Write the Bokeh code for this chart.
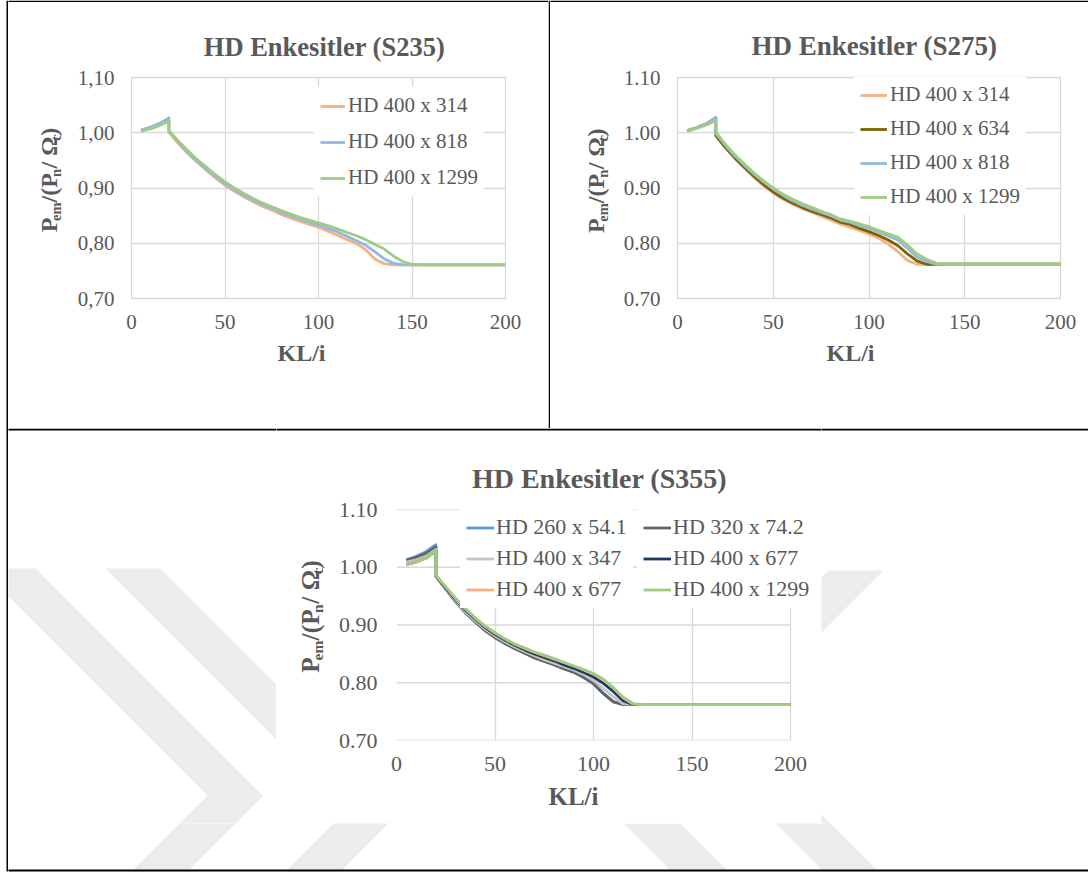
import math

from bokeh.core.properties import value
from bokeh.embed import file_html
from bokeh.layouts import column, row
from bokeh.models import (CustomJSTickFormatter, FixedTicker, Legend, LegendItem,
                          Range1d)
from bokeh.plotting import figure
from bokeh.resources import INLINE

# ---------------------------------------------------------------- data
X_TICKS = [0, 50, 100, 150, 200]
Y_TICKS = [0.70, 0.80, 0.90, 1.00, 1.10]
Y_LABELS_COMMA = ["0,70", "0,80", "0,90", "1,00", "1,10"]
Y_LABELS_DOT = ["0.70", "0.80", "0.90", "1.00", "1.10"]

# slenderness KL/i (20 appears twice: the ratio jumps down there)
KL_S235 = [5, 10, 15, 20, 20, 25, 30, 35, 40, 45, 50, 55, 60, 65, 70, 75, 80, 85, 90,
           95, 100, 105, 110, 115, 120, 125, 130, 135, 140, 145, 150, 155, 200]
S235_HD400x314 = [1.005, 1.010, 1.016, 1.026, 1.001, 0.981, 0.963, 0.947, 0.932, 0.918,
                  0.905, 0.894, 0.884, 0.875, 0.867, 0.860, 0.852, 0.846, 0.840, 0.834,
                  0.829, 0.822, 0.815, 0.807, 0.800, 0.789, 0.772, 0.763, 0.761, 0.761,
                  0.761, 0.761, 0.761]
S235_HD400x818 = [1.005, 1.010, 1.017, 1.027, 1.002, 0.983, 0.965, 0.949, 0.934, 0.921,
                  0.908, 0.897, 0.887, 0.878, 0.870, 0.863, 0.856, 0.850, 0.844, 0.838,
                  0.833, 0.827, 0.821, 0.813, 0.805, 0.797, 0.785, 0.772, 0.764, 0.761,
                  0.761, 0.761, 0.761]
S235_HD400x1299 = [1.003, 1.007, 1.013, 1.021, 1.004, 0.985, 0.968, 0.952, 0.938, 0.924,
                   0.911, 0.900, 0.890, 0.881, 0.873, 0.866, 0.859, 0.853, 0.847, 0.842,
                   0.837, 0.832, 0.826, 0.820, 0.814, 0.807, 0.798, 0.790, 0.777, 0.767,
                   0.762, 0.761, 0.761]

KL_S275 = [5, 10, 15, 20, 20, 25, 30, 35, 40, 45, 50, 55, 60, 65, 70, 75, 80, 85, 90,
           95, 100, 105, 110, 115, 120, 125, 130, 135, 140, 145, 150, 155, 200]
S275_HD400x314 = [1.004, 1.009, 1.016, 1.027, 0.997, 0.974, 0.954, 0.936, 0.919, 0.904,
                  0.891, 0.880, 0.871, 0.863, 0.856, 0.849, 0.842, 0.835, 0.829, 0.823,
                  0.817, 0.809, 0.799, 0.785, 0.769, 0.762, 0.762, 0.762, 0.762, 0.762,
                  0.762, 0.762, 0.762]
S275_HD400x634 = [1.004, 1.009, 1.016, 1.027, 0.995, 0.973, 0.954, 0.937, 0.921, 0.906,
                  0.893, 0.882, 0.873, 0.865, 0.858, 0.852, 0.846, 0.838, 0.834, 0.827,
                  0.821, 0.814, 0.806, 0.796, 0.781, 0.768, 0.762, 0.762, 0.762, 0.762,
                  0.762, 0.762, 0.762]
S275_HD400x818 = [1.004, 1.009, 1.016, 1.028, 0.999, 0.977, 0.958, 0.941, 0.925, 0.911,
                  0.898, 0.887, 0.877, 0.869, 0.862, 0.856, 0.850, 0.842, 0.838, 0.832,
                  0.827, 0.820, 0.813, 0.806, 0.791, 0.775, 0.767, 0.762, 0.762, 0.762,
                  0.762, 0.762, 0.762]
S275_HD400x1299 = [1.003, 1.008, 1.014, 1.022, 1.001, 0.979, 0.960, 0.943, 0.927, 0.913,
                   0.900, 0.889, 0.880, 0.872, 0.865, 0.858, 0.852, 0.844, 0.840, 0.835,
                   0.830, 0.823, 0.817, 0.811, 0.797, 0.781, 0.771, 0.764, 0.762, 0.762,
                   0.762, 0.762, 0.762]

KL_S355 = [5, 10, 15, 20, 20, 25, 30, 35, 40, 45, 50, 55, 60, 65, 70, 75, 80, 85, 90,
           95, 100, 105, 110, 115, 120, 125, 200]
S355_HD260x54_1 = [1.013, 1.019, 1.027, 1.039, 0.985, 0.963, 0.941, 0.922, 0.906, 0.891,
                   0.879, 0.869, 0.860, 0.852, 0.844, 0.838, 0.832, 0.825, 0.819, 0.810,
                   0.799, 0.782, 0.768, 0.762, 0.762, 0.762, 0.762]
S355_HD320x74_2 = [1.012, 1.017, 1.024, 1.035, 0.984, 0.962, 0.940, 0.921, 0.905, 0.890,
                   0.878, 0.868, 0.859, 0.851, 0.843, 0.837, 0.831, 0.824, 0.818, 0.809,
                   0.798, 0.781, 0.767, 0.762, 0.762, 0.762, 0.762]
S355_HD400x347 = [1.009, 1.013, 1.019, 1.031, 0.985, 0.963, 0.942, 0.923, 0.907, 0.893,
                  0.881, 0.871, 0.862, 0.854, 0.847, 0.840, 0.834, 0.828, 0.822, 0.814,
                  0.804, 0.790, 0.776, 0.764, 0.762, 0.762, 0.762]
S355_HD400x677_A = [1.005, 1.009, 1.016, 1.028, 0.985, 0.964, 0.944, 0.926, 0.910, 0.896,
                    0.884, 0.874, 0.865, 0.857, 0.850, 0.844, 0.838, 0.831, 0.825, 0.818,
                    0.810, 0.799, 0.785, 0.769, 0.762, 0.762, 0.762]
S355_HD400x677_B = [1.005, 1.009, 1.016, 1.028, 0.986, 0.966, 0.946, 0.928, 0.912, 0.898,
                    0.886, 0.876, 0.867, 0.860, 0.853, 0.847, 0.841, 0.835, 0.829, 0.822,
                    0.815, 0.805, 0.791, 0.774, 0.763, 0.762, 0.762]
S355_HD400x1299 = [1.005, 1.009, 1.016, 1.028, 0.986, 0.966, 0.946, 0.928, 0.912, 0.898,
                   0.887, 0.876, 0.867, 0.860, 0.853, 0.848, 0.842, 0.835, 0.829, 0.823,
                   0.816, 0.806, 0.792, 0.775, 0.764, 0.762, 0.762]

# ---------------------------------------------------------------- style
FONT = "Liberation Serif"
TEXT = "#595959"
GRID = "#d9d9d9"
ORANGE = "#F4B183"
LIGHT_BLUE = "#8FBBE3"
GREEN = "#9FCC82"
BROWN = "#7F6000"
BLUE = "#5B9BD5"
DARK_GRAY = "#636363"
LIGHT_GRAY = "#C5C5C5"
NAVY = "#203864"
WATERMARK = "#ececec"
LW = 2.8

# advance widths (em) of the bold serif face, used to chain the pieces of the
# rotated y title with its subscripts
ADV = {"P": .611, "e": .444, "m": .833, " ": .25, "/": .278, "(": .333,
       ")": .333, "n": .556, "c": .444, "Ω": .768}
# distance (em) from the baseline to the middle of the ascent/descent box
MID = 0.3375


def adv(text, size):
    return sum(ADV[ch] for ch in text) * size


# ---------------------------------------------------------------- helpers
def decor(x0, y0, x1, y1):
    """Axis-less tile of the page; its data space is page pixels (y negated)."""
    return figure(width=x1 - x0, height=y1 - y0, title=None, toolbar_location=None,
                  output_backend="svg", x_range=Range1d(x0, x1),
                  y_range=Range1d(-y1, -y0), min_border=0, x_axis_type=None,
                  y_axis_type=None, outline_line_color=None,
                  background_fill_color="white", border_fill_color="white")


def rule(p, x0, y0, x1, y1):
    p.quad(left=x0, right=x1, top=-y0, bottom=-y1, fill_color="black", line_color=None)


def ctext(p, xc, yc, text, size, angle=0.0):
    """Bold text centred on (xc, yc) in page pixels."""
    p.text(x=[xc], y=[-yc], text=[text], text_font=value(FONT),
           text_font_size=value(f"{size}px"), text_font_style=value("bold"),
           text_color=value(TEXT), text_align=value("center"),
           text_baseline=value("middle"), angle=angle)


def btext(p, x, baseline, text, size):
    ctext(p, x, baseline - MID * size, text, size)


def dpatch(p, pts, color):
    p.patch(x=[q[0] for q in pts], y=[-q[1] for q in pts], fill_color=color,
            line_color=None)


def y_title(p, xb, yc, s, ss, shift):
    """Rotated 'Pem /(Pn / Ωc)' built from pieces, subscripts set lower."""
    parts = [("P", False, ""), ("em", True, ""), ("/(P", False, " "), ("n", True, ""),
             ("/ Ω", False, " "), ("c", True, ""), (")", False, "")]
    total = sum(adv(lead + t, ss if sub else s) for t, sub, lead in parts)
    y = yc + total / 2
    for t, sub, lead in parts:
        size = ss if sub else s
        y -= adv(lead, size)
        w = adv(t, size)
        ctext(p, xb + (shift if sub else 0) - MID * size, y - w / 2, t, size,
              angle=math.pi / 2)
        y -= w


def make_chart(box, frame, tick_px, labels, frame_right_px=None):
    fx0, fy0, fx1, fy1 = box
    left, right, top, bottom = frame
    fr = right if frame_right_px is None else frame_right_px
    x_end = X_TICKS[-1] * (fr - left) / (right - left)
    p = figure(width=fx1 - fx0, height=fy1 - fy0, title=None, toolbar_location=None,
               output_backend="svg", x_range=Range1d(X_TICKS[0], x_end),
               y_range=Range1d(Y_TICKS[0], Y_TICKS[-1]),
               min_border_left=left - fx0, min_border_right=fx1 - fr,
               min_border_top=top - fy0, min_border_bottom=fy1 - bottom,
               background_fill_color="white", border_fill_color="white")
    for ax in (p.xaxis[0], p.yaxis[0]):
        ax.axis_line_color = None
        ax.major_tick_in = 0
        ax.major_tick_out = 0
        ax.minor_tick_line_color = None
        ax.major_label_text_font = FONT
        ax.major_label_text_font_size = f"{tick_px}px"
        ax.major_label_text_color = TEXT
    p.xaxis.ticker = FixedTicker(ticks=X_TICKS)
    p.yaxis.ticker = FixedTicker(ticks=Y_TICKS)
    p.yaxis.formatter = CustomJSTickFormatter(
        args=dict(vals=Y_TICKS, labs=labels),
        code="const i = vals.findIndex(t => Math.abs(t - tick) < 1e-9);"
             "return i >= 0 ? labs[i] : '';")
    p.xaxis.major_label_standoff = 16
    p.yaxis.major_label_standoff = 17 if tick_px < 22 else 19
    for g in (p.xgrid[0], p.ygrid[0]):
        g.grid_line_color = GRID
        g.grid_line_width = 1.3
    if frame_right_px is None:
        p.outline_line_color = GRID
        p.outline_line_width = 1.3
    else:
        # the frame runs past x = 200 to hold the legend; stop the horizontal
        # rules at the last x tick
        p.outline_line_color = None
        p.ygrid.visible = False
        n = len(Y_TICKS)
        p.segment(x0=[X_TICKS[0]] * n, x1=[X_TICKS[-1]] * n, y0=Y_TICKS, y1=Y_TICKS,
                  line_color=GRID, line_width=1.3)
    return p


def add_legend(p, pairs, loc, glyph_w, h, spacing, font_px, standoff=3):
    p.add_layout(Legend(
        items=[LegendItem(label=value(lab), renderers=[r]) for lab, r in pairs],
        location=loc, orientation="vertical", background_fill_color="white",
        background_fill_alpha=1.0, border_line_alpha=0, label_text_font=FONT,
        label_text_font_size=f"{font_px}px", label_text_color=TEXT,
        glyph_width=glyph_w, glyph_height=h, label_height=h, spacing=spacing,
        padding=6, margin=0, label_standoff=standoff))


def series(p, xs, ys, color):
    return p.line(xs, ys, line_color=color, line_width=LW, line_join="round")


# ---------------------------------------------------------------- S235 cell
chart1 = make_chart((72, 62, 548, 339), (131, 505, 77, 298), 21, Y_LABELS_COMMA)
r = [series(chart1, KL_S235, S235_HD400x314, ORANGE),
     series(chart1, KL_S235, S235_HD400x818, LIGHT_BLUE),
     series(chart1, KL_S235, S235_HD400x1299, GREEN)]
add_legend(chart1, list(zip(["HD 400 x 314", "HD 400 x 818", "HD 400 x 1299"], r)),
           (183, 102), 25, 24, 11, 21)
title1 = decor(8, 0, 548, 62)
rule(title1, 6, 0, 1088, 1.5)
btext(title1, 324, 55, "HD Enkesitler (S235)", 26.5)
ylab1 = decor(8, 62, 72, 339)
y_title(ylab1, 57, 190, 24, 14.5, 3.5)
xlab1 = decor(8, 339, 548, 428)
btext(xlab1, 301, 361, "KL/i", 24)
cell1 = column(title1, row(ylab1, chart1), xlab1)

# ---------------------------------------------------------------- S275 cell
chart2 = make_chart((618, 62, 1088, 339), (677, 1060, 77, 298), 21, Y_LABELS_DOT)
r = [series(chart2, KL_S275, S275_HD400x314, ORANGE),
     series(chart2, KL_S275, S275_HD400x634, BROWN),
     series(chart2, KL_S275, S275_HD400x818, LIGHT_BLUE),
     series(chart2, KL_S275, S275_HD400x1299, GREEN)]
add_legend(chart2, list(zip(["HD 400 x 314", "HD 400 x 634", "HD 400 x 818",
                             "HD 400 x 1299"], r)), (177, 83), 27, 24, 9, 21)
title2 = decor(550, 0, 1088, 62)
rule(title2, 6, 0, 1088, 1.5)
btext(title2, 874, 55, "HD Enkesitler (S275)", 27)
ylab2 = decor(550, 62, 618, 339)
y_title(ylab2, 604, 191, 24, 14.5, 3.5)
xlab2 = decor(550, 339, 1088, 428)
btext(xlab2, 850, 361, "KL/i", 24)
cell2 = column(title2, row(ylab2, chart2), xlab2)

vrule = decor(548, 0, 550, 428)
rule(vrule, 548, 0, 550, 428)

# ---------------------------------------------------------------- S355 cell
chart3 = make_chart((335, 495, 821, 781), (395, 790, 509, 740), 22, Y_LABELS_DOT,
                    frame_right_px=818)
r = [series(chart3, KL_S355, S355_HD260x54_1, BLUE),
     series(chart3, KL_S355, S355_HD320x74_2, DARK_GRAY),
     series(chart3, KL_S355, S355_HD400x347, LIGHT_GRAY),
     series(chart3, KL_S355, S355_HD400x677_A, NAVY),
     series(chart3, KL_S355, S355_HD400x677_B, ORANGE),
     series(chart3, KL_S355, S355_HD400x1299, GREEN)]
names = ["HD 260 x 54.1", "HD 320 x 74.2", "HD 400 x 347", "HD 400 x 677",
         "HD 400 x 677", "HD 400 x 1299"]
add_legend(chart3, [(names[0], r[0]), (names[2], r[2]), (names[4], r[4])],
           (64, 132), 28, 25, 5, 22, standoff=2)
add_legend(chart3, [(names[1], r[1]), (names[3], r[3]), (names[5], r[5])],
           (241, 132), 28, 25, 5, 22, standoff=2)
title3 = decor(276, 428, 821, 495)
btext(title3, 599, 487, "HD Enkesitler (S355)", 28)
ylab3 = decor(276, 495, 335, 781)
y_title(ylab3, 319, 627, 25.5, 15.5, 3.5)
xlab3 = decor(276, 781, 821, 823)
btext(xlab3, 573, 804, "KL/i", 25)
chart_area3 = column(title3, row(ylab3, chart3), xlab3)

# faint chevron watermark of the page around the lower chart
BANDS = [
    [(-20, 568), (35, 568), (262.5, 795.5), (207, 795)],
    [(207, 795), (262.5, 795.5), (187, 871), (131, 871)],
    [(105, 568), (160, 568), (401.5, 809.5), (346.5, 809.5)],
    [(346.5, 809.5), (401.5, 809.5), (340, 871), (285, 871)],
    [(828, 570), (883, 570), (730, 723), (675, 723)],
    [(675, 723), (730, 723), (878, 871), (823, 871)],
    [(623, 823), (680, 823), (728, 871), (671, 871)],
]
wm_left = decor(8, 428, 276, 823)
wm_right = decor(821, 428, 1088, 823)
wm_bottom = decor(8, 823, 1088, 872)
for tile in (wm_left, wm_right, wm_bottom):
    for band in BANDS:
        dpatch(tile, band, WATERMARK)
for tile in (wm_left, title3, wm_right):
    rule(tile, 6, 428, 1088, 430)
rule(wm_bottom, 6, 869, 1088, 871)
cell3 = column(row(wm_left, chart_area3, wm_right), wm_bottom)

left_rule = decor(0, 0, 8, 872)
rule(left_rule, 6, 0, 8, 871)

page = row(left_rule, column(row(cell1, vrule, cell2), cell3))
open("out.html", "w").write(file_html(page, INLINE))
